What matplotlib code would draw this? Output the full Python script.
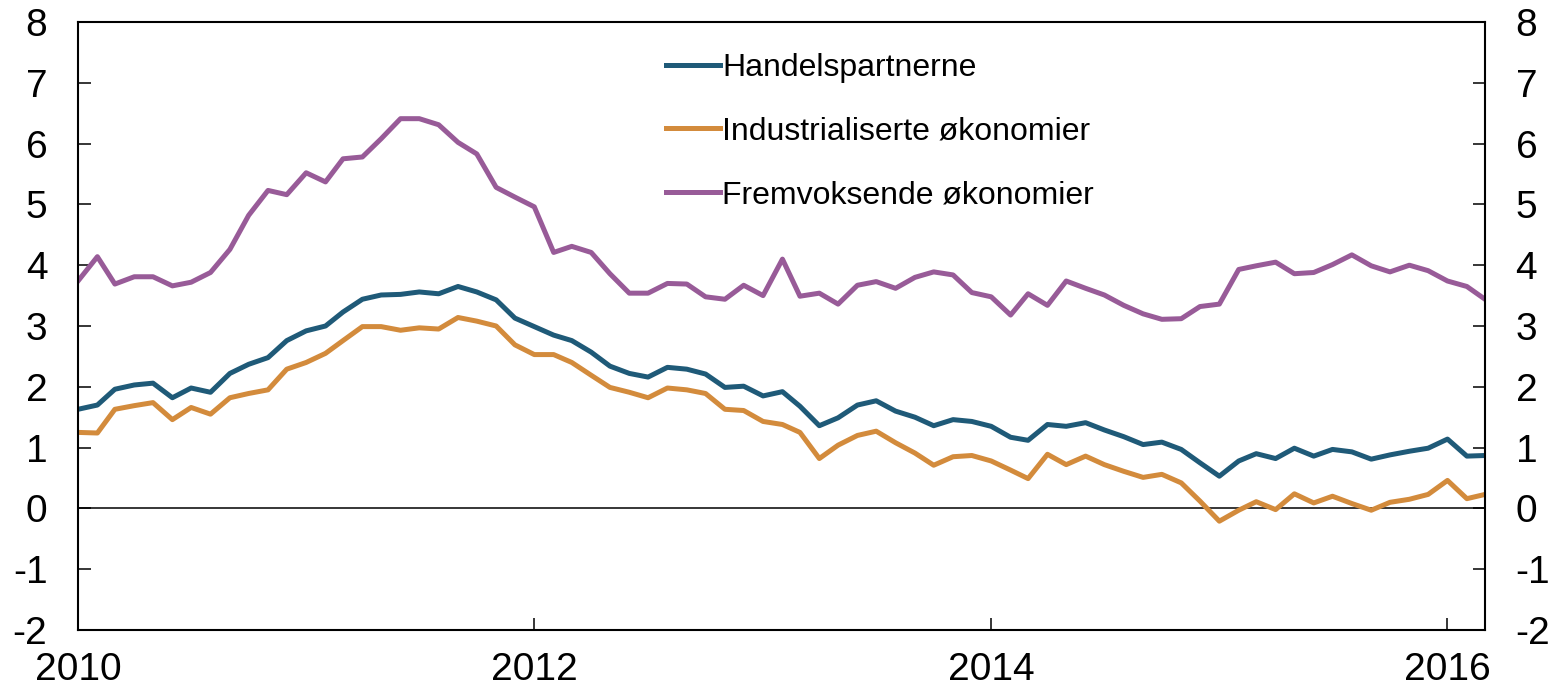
import matplotlib
matplotlib.use("Agg")
import matplotlib.pyplot as plt
import matplotlib.dates as mdates
import pandas as pd

plt.rcParams["font.family"] = ["Liberation Sans", "DejaVu Sans"]
plt.rcParams["axes.unicode_minus"] = False

# monthly observations, Jan 2010 - Mar 2016
dates = pd.date_range("2010-01-01", "2016-03-01", freq="MS")

handelspartnerne = [
    1.63, 1.70, 1.96, 2.03, 2.06, 1.82, 1.98, 1.91, 2.22, 2.37, 2.48, 2.76,
    2.92, 3.00, 3.23, 3.44, 3.51, 3.52, 3.56, 3.53, 3.65, 3.56, 3.43, 3.13,
    2.99, 2.85, 2.76, 2.57, 2.34, 2.22, 2.16, 2.32, 2.29, 2.21, 1.99, 2.01,
    1.85, 1.92, 1.68, 1.36, 1.49, 1.70, 1.77, 1.60, 1.50, 1.36, 1.46, 1.43,
    1.35, 1.17, 1.12, 1.38, 1.35, 1.41, 1.29, 1.18, 1.05, 1.09, 0.97, 0.75,
    0.53, 0.78, 0.90, 0.82, 0.99, 0.86, 0.97, 0.93, 0.81, 0.88, 0.94, 0.99,
    1.14, 0.86, 0.87,
]
industrialiserte = [
    1.25, 1.24, 1.63, 1.69, 1.74, 1.46, 1.66, 1.55, 1.82, 1.89, 1.95, 2.29,
    2.40, 2.55, 2.76, 2.99, 2.99, 2.93, 2.97, 2.95, 3.14, 3.08, 3.00, 2.69,
    2.53, 2.53, 2.40, 2.19, 1.99, 1.91, 1.82, 1.98, 1.95, 1.89, 1.63, 1.61,
    1.43, 1.38, 1.25, 0.82, 1.04, 1.20, 1.27, 1.08, 0.91, 0.71, 0.85, 0.87,
    0.78, 0.63, 0.49, 0.89, 0.72, 0.86, 0.72, 0.61, 0.51, 0.56, 0.42, 0.12,
    -0.21, -0.03, 0.11, -0.02, 0.24, 0.09, 0.20, 0.08, -0.03, 0.10, 0.15, 0.23,
    0.46, 0.16, 0.23,
]
fremvoksende = [
    3.74, 4.14, 3.69, 3.81, 3.81, 3.66, 3.72, 3.88, 4.26, 4.82, 5.23, 5.16,
    5.52, 5.37, 5.75, 5.78, 6.08, 6.41, 6.41, 6.31, 6.02, 5.83, 5.28, 5.12,
    4.96, 4.21, 4.31, 4.21, 3.86, 3.54, 3.54, 3.70, 3.69, 3.48, 3.44, 3.67,
    3.50, 4.10, 3.49, 3.54, 3.36, 3.67, 3.73, 3.62, 3.80, 3.89, 3.84, 3.55,
    3.48, 3.18, 3.53, 3.34, 3.74, 3.62, 3.51, 3.34, 3.20, 3.11, 3.12, 3.32,
    3.36, 3.93, 3.99, 4.05, 3.86, 3.88, 4.01, 4.17, 3.99, 3.89, 4.00, 3.91,
    3.74, 3.65, 3.44,
]

series = [
    ("Handelspartnerne", handelspartnerne, "#1f5a78"),
    ("Industrialiserte økonomier", industrialiserte, "#d38b3c"),
    ("Fremvoksende økonomier", fremvoksende, "#985b98"),
]
yticks = list(range(-2, 9))
year_ticks = [2010, 2012, 2014, 2016]

fig = plt.figure(figsize=(15.52, 6.92), dpi=100)
ax = fig.add_axes([78 / 1552, 1 - 630 / 692, (1485 - 78) / 1552, (630 - 22) / 692])

for label, vals, col in series:
    ax.plot(dates, vals, color=col, lw=3.6, label=label)

ax.axhline(0, color="black", lw=1.1, zorder=1)

ax.set_xlim(dates[0], dates[-1])
ax.set_ylim(-2, 8)
ax.set_yticks(yticks)
ax.set_xticks([pd.Timestamp(f"{y}-01-01") for y in year_ticks])
ax.xaxis.set_major_formatter(mdates.DateFormatter("%Y"))

for s in ax.spines.values():
    s.set_linewidth(1.5)

ax.tick_params(axis="both", direction="in", length=9, width=1.1, labelsize=28)
ax.tick_params(axis="y", right=True, labelright=True, pad=22)
ax.tick_params(axis="x", pad=16)

ax.legend(loc="upper left", bbox_to_anchor=(0.418, 0.949), frameon=False,
          fontsize=23, handlelength=1.7, handletextpad=0.06,
          labelspacing=1.05, borderpad=0, borderaxespad=0)

fig.savefig("out.png", dpi=100)
